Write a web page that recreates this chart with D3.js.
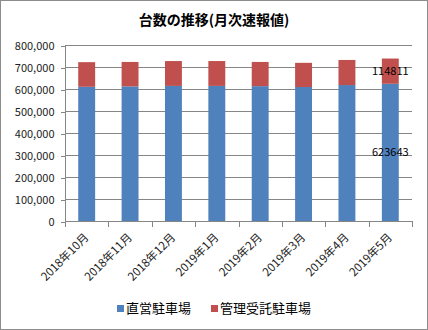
<!DOCTYPE html>
<html>
  <head>
    <meta http-equiv="Content-Type" content="text/html;charset=utf-8"/>
    <script src="https://d3js.org/d3.v7.min.js"></script>
    <style type="text/css">
    body { margin: 0; background: #fff; }
    text { font-family: "Noto Sans CJK JP", "DejaVu Sans", sans-serif; }
    .grid-line { stroke: #868686; stroke-width: 1px; shape-rendering: crispEdges; }
    .axis path, .axis line { stroke: #868686; shape-rendering: crispEdges; }
    </style>
  </head>
  <body>
    <script type="text/javascript">
      var months = ["2018年10月", "2018年11月", "2018年12月", "2019年1月",
                    "2019年2月", "2019年3月", "2019年4月", "2019年5月"];
      var direct = [610000, 612000, 614000, 614000, 613000, 609000, 618000, 623643];
      var managed = [112000, 111000, 113000, 113000, 110000, 110000, 114000, 114811];
      var yTicks = [0, 100000, 200000, 300000, 400000, 500000, 600000, 700000, 800000];
      var seriesNames = ["直営駐車場", "管理受託駐車場"];
      var colors = ["#4F81BD", "#C0504D"];

      var width = 428, height = 330;
      var plotLeft = 65, plotRight = 412, plotTop = 45, plotBottom = 221;

      var svg = d3.select("body").append("svg")
        .attr("width", width)
        .attr("height", height);

      svg.append("rect")
        .attr("x", 0.5).attr("y", 0.5)
        .attr("width", width - 1).attr("height", height - 1)
        .attr("fill", "#fff").attr("stroke", "#8c8c8c");

      svg.append("text")
        .attr("x", 214).attr("y", 25)
        .attr("text-anchor", "middle")
        .style("font-size", "14px").style("font-weight", "bold")
        .text("台数の推移(月次速報値)");

      var x = d3.scaleBand().domain(months).range([plotLeft, plotRight]).paddingInner(0.61).paddingOuter(0.305);
      var xCat = d3.scaleBand().domain(months).range([plotLeft, plotRight]);
      var y = d3.scaleLinear().domain([0, 800000]).range([plotBottom, plotTop]);

      // gridlines
      svg.selectAll("line.grid-line")
        .data(yTicks.slice(1))
        .enter().append("line")
          .classed("grid-line", true)
          .attr("x1", plotLeft).attr("x2", plotRight)
          .attr("y1", function(d) { return Math.round(y(d)) + 0.5; })
          .attr("y2", function(d) { return Math.round(y(d)) + 0.5; });

      var yAxis = d3.axisLeft(y).tickValues(yTicks).tickSize(5).tickPadding(6)
        .tickFormat(d3.format(","));
      svg.append("g")
          .classed("axis", true)
          .attr("transform", "translate(" + (plotLeft + 0.5) + ",0.5)")
          .call(yAxis)
          .call(function(g) { g.select(".domain").attr("d", "M0," + (plotTop - 0.5) + "V" + (plotBottom - 0.5)); })
          .selectAll("text")
            .style("font-size", "11px")
            .attr("fill", "#222");

      // stacked bars
      var stack = months.map(function(m, i) {
        return [{ y0: 0, y1: direct[i] }, { y0: direct[i], y1: direct[i] + managed[i] }];
      });
      [0, 1].forEach(function(s) {
        svg.selectAll("rect.s" + s)
          .data(months)
          .enter().append("rect")
            .attr("class", "s" + s)
            .attr("x", function(d) { return x(d); })
            .attr("width", x.bandwidth())
            .attr("y", function(d, i) { return y(stack[i][s].y1); })
            .attr("height", function(d, i) { return y(stack[i][s].y0) - y(stack[i][s].y1); })
            .attr("fill", colors[s]);
      });

      // x axis
      var xAxisG = svg.append("g")
          .classed("axis", true)
          .attr("transform", "translate(0," + (plotBottom + 0.5) + ")");
      xAxisG.append("line")
        .attr("x1", plotLeft).attr("x2", plotRight + 1);
      xAxisG.selectAll("line.tk")
        .data(d3.range(months.length + 1))
        .enter().append("line")
          .attr("class", "tk")
          .attr("x1", function(i) { return Math.round(plotLeft + i * xCat.bandwidth()) + 0.5; })
          .attr("x2", function(i) { return Math.round(plotLeft + i * xCat.bandwidth()) + 0.5; })
          .attr("y1", 0).attr("y2", 5);
      xAxisG.selectAll("text")
        .data(months)
        .enter().append("text")
          .attr("text-anchor", "end")
          .attr("transform", function(d) {
            return "translate(" + (xCat(d) + xCat.bandwidth() / 2 - 3) + ",11) rotate(-45)";
          })
          .attr("dy", "0.7em")
          .style("font-size", "11.5px")
          .attr("fill", "#222")
          .text(function(d) { return d; });

      // data labels for the last month
      var last = months.length - 1;
      var lx = x(months[last]) + x.bandwidth() / 2;
      [0, 1].forEach(function(s) {
        var seg = stack[last][s];
        svg.append("text")
          .attr("x", lx)
          .attr("y", (y(seg.y0) + y(seg.y1)) / 2)
          .attr("dy", "0.35em")
          .attr("text-anchor", "middle")
          .style("font-size", "11px")
          .attr("fill", "#000")
          .text(s === 0 ? direct[last] : managed[last]);
      });

      // legend
      var legendX = [117, 211];
      seriesNames.forEach(function(name, i) {
        svg.append("rect")
          .attr("x", legendX[i]).attr("y", 305)
          .attr("width", 7).attr("height", 7)
          .attr("fill", colors[i]);
        svg.append("text")
          .attr("x", legendX[i] + 9).attr("y", 308.5)
          .attr("dy", "0.35em")
          .style("font-size", "13px")
          .attr("fill", "#000")
          .text(name);
      });
    </script>
  </body>
</html>
